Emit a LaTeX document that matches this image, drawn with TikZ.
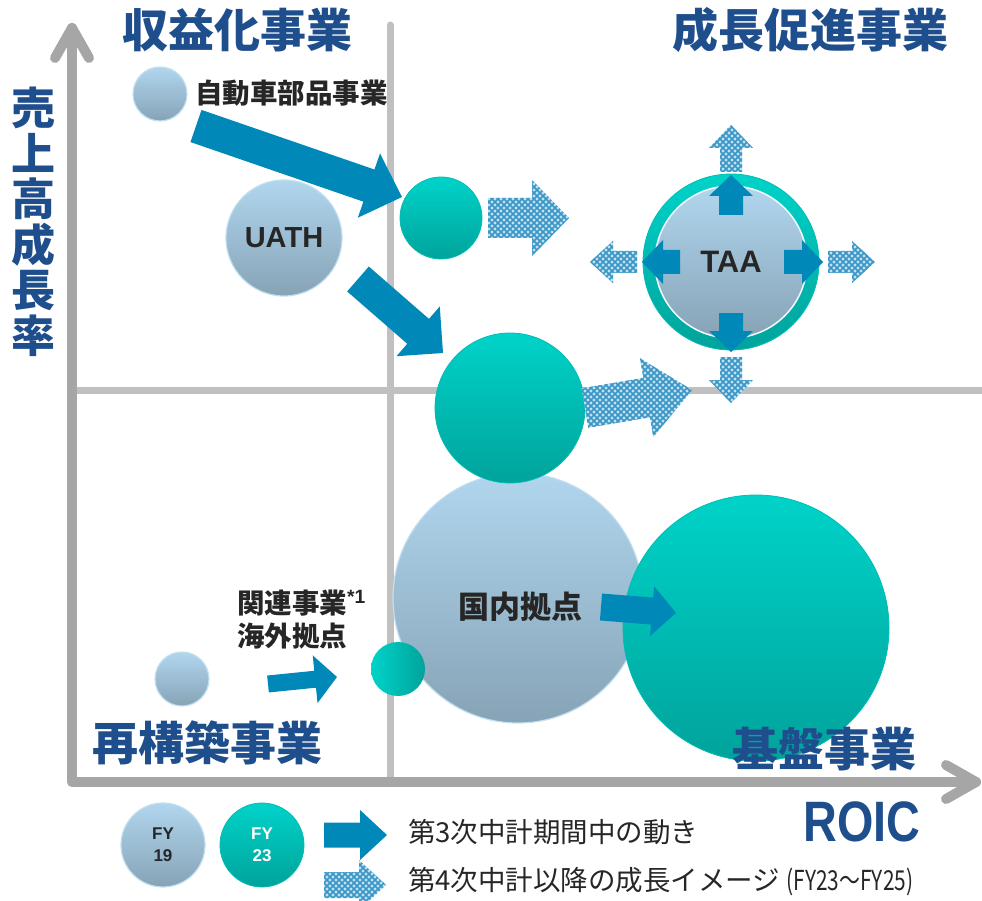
\documentclass[tikz,border=0pt]{standalone}
\usepackage{fontspec}
\setmainfont{Noto Sans CJK JP}
\newfontfamily\lat{Liberation Sans}
\usetikzlibrary{calc,patterns}
\definecolor{titleblue}{HTML}{1F4E8C}
\definecolor{axisgray}{HTML}{A6A6A6}
\definecolor{divgray}{HTML}{C0C0C0}
\definecolor{arrowblue}{HTML}{0088B8}
\definecolor{hatchblue}{HTML}{3A96C6}
\definecolor{hatchbg}{HTML}{C4E2F1}
\definecolor{tltop}{HTML}{00D3C9}
\definecolor{tlbot}{HTML}{00A39B}
\definecolor{tledge}{HTML}{00BDB5}
\definecolor{lbtop}{HTML}{B0D6EE}
\definecolor{lbbot}{HTML}{87A3B6}
\definecolor{lbedge}{HTML}{C2DFF0}
\definecolor{darktext}{HTML}{262626}
\pgfdeclarepatternformonly{lattice}{\pgfqpoint{-1pt}{-1pt}}{\pgfqpoint{7pt}{7pt}}{\pgfqpoint{6pt}{6pt}}{%
  \pgfsetlinewidth{1.6pt}%
  \pgfpathmoveto{\pgfqpoint{0pt}{0pt}}\pgfpathlineto{\pgfqpoint{6pt}{6pt}}%
  \pgfpathmoveto{\pgfqpoint{0pt}{6pt}}\pgfpathlineto{\pgfqpoint{6pt}{0pt}}%
  \pgfusepath{stroke}}
% #1 style, #2 from, #3 to, #4 shaft half width, #5 head half width, #6 head length
\newcommand\fatarr[6]{%
  \path[#1] ($(#2)!#4!90:(#3)$) -- ($($(#3)!#6!(#2)$)!#4!90:(#3)$)
    -- ($($(#3)!#6!(#2)$)!#5!90:(#3)$) -- (#3)
    -- ($($(#3)!#6!(#2)$)!#5!-90:(#3)$) -- ($($(#3)!#6!(#2)$)!#4!-90:(#3)$)
    -- ($(#2)!#4!-90:(#3)$) -- cycle;}
\tikzset{
  solidarr/.style={fill=arrowblue},
  hatcharr/.style={fill=hatchbg, postaction={pattern=lattice, pattern color=hatchblue}},
  fyold/.style={circle, inner sep=0pt, top color=lbtop, bottom color=lbbot, draw=lbedge, line width=1.2pt},
  fynew/.style={circle, inner sep=0pt, top color=tltop, bottom color=tlbot, draw=tledge, line width=0.8pt},
  quadtitle/.style={text=titleblue, inner sep=0pt, font=\fontsize{46}{50}\selectfont\bfseries},
  lab/.style={text=darktext, inner sep=0pt, font=\fontsize{27.5}{33}\selectfont\bfseries},
  legtext/.style={text=darktext, inner sep=0pt, anchor=west, font=\fontsize{27.5}{30}\selectfont},
  axisline/.style={draw=axisgray, line width=10pt, line cap=round, line join=round},
  divline/.style={draw=divgray, line width=7pt, line cap=round},
}
\begin{document}
\begin{tikzpicture}[x=1pt,y=-1pt]
\useasboundingbox (0,0) rectangle (982,901);
% dividers
\draw[divline] (390,25) -- (390,782);
\draw[divline] (72,390) -- (985,390);
% axes
\draw[axisline] (72,28) -- (72,782) -- (976,782);
\draw[axisline] (55,58) -- (72,28) -- (89,58);
\draw[axisline] (946,765) -- (976,782) -- (946,799);
% circles
\node[fyold, minimum size=54pt] (c1) at (160,94) {};
\node[fyold, minimum size=116pt, font=\lat\bfseries\fontsize{29}{32}\selectfont, text=darktext] (uath) at (284,238) {UATH};
\node[fynew, minimum size=82pt] (c2) at (441,218) {};
\node[fyold, minimum size=250pt] (kokunai) at (518,598) {};
\node[fynew, minimum size=150pt] (c3) at (510,408) {};
\node[fynew, minimum size=266pt] (kiban) at (756,628) {};
\node[fyold, minimum size=54pt] (c5) at (182,679) {};
\node[circle, inner sep=0pt, minimum size=54pt, left color=tltop, right color=tlbot] (c6) at (398,669) {};
\node[fynew, minimum size=176pt] (taaout) at (731,262) {};
\node[circle, inner sep=0pt, minimum size=152pt, top color=lbtop, bottom color=lbbot, draw=white!85!lbtop, line width=1.5pt] (taa) at (731,262) {};
% arrow coordinates
\coordinate (s1a) at (196,126); \coordinate (s1b) at (402,197);
\coordinate (s2a) at (358,279); \coordinate (s2b) at (443,353);
\coordinate (s3a) at (601,607); \coordinate (s3b) at (676,613);
\coordinate (s4a) at (268,684); \coordinate (s4b) at (337,677);
\coordinate (h1a) at (488,218); \coordinate (h1b) at (569,218);
\coordinate (h2a) at (585,408); \coordinate (h2b) at (692,390);
\coordinate (tu1) at ($(taa)+(0,-47)$); \coordinate (tu2) at ($(taa)+(0,-87)$);
\coordinate (td1) at ($(taa)+(0,51)$); \coordinate (td2) at ($(taa)+(0,90)$);
\coordinate (tl1) at ($(taa)+(-51,0)$); \coordinate (tl2) at ($(taa)+(-89,0)$);
\coordinate (tr1) at ($(taa)+(53,0)$); \coordinate (tr2) at ($(taa)+(92,0)$);
\coordinate (hu1) at ($(taa)+(0,-90)$); \coordinate (hu2) at ($(taa)+(0,-137)$);
\coordinate (hd1) at ($(taa)+(0,95)$); \coordinate (hd2) at ($(taa)+(0,141)$);
\coordinate (hl1) at ($(taa)+(-94,0)$); \coordinate (hl2) at ($(taa)+(-141,0)$);
\coordinate (hr1) at ($(taa)+(97,0)$); \coordinate (hr2) at ($(taa)+(144,0)$);
\coordinate (ls1) at (324,835); \coordinate (ls2) at (387,835);
\coordinate (lh1) at (324,885); \coordinate (lh2) at (386,885);
% arrows
\fatarr{solidarr}{s1a}{s1b}{17pt}{34pt}{35pt}
\fatarr{solidarr}{s2a}{s2b}{16.5pt}{33pt}{33pt}
\fatarr{hatcharr}{h1a}{h1b}{20pt}{38pt}{37pt}
\fatarr{hatcharr}{h2a}{h2b}{20pt}{40pt}{46pt}
\fatarr{solidarr}{tu1}{tu2}{12pt}{22pt}{21pt}
\fatarr{solidarr}{td1}{td2}{12pt}{22pt}{21pt}
\fatarr{solidarr}{tl1}{tl2}{12pt}{22pt}{21pt}
\fatarr{solidarr}{tr1}{tr2}{12pt}{22pt}{21pt}
\fatarr{hatcharr}{hu1}{hu2}{11pt}{22pt}{23pt}
\fatarr{hatcharr}{hd1}{hd2}{11pt}{22pt}{23pt}
\fatarr{hatcharr}{hl1}{hl2}{11pt}{21pt}{23pt}
\fatarr{hatcharr}{hr1}{hr2}{11pt}{21pt}{23pt}
\fatarr{solidarr}{s3a}{s3b}{13.5pt}{25pt}{24pt}
\fatarr{solidarr}{s4a}{s4b}{8.5pt}{24pt}{22pt}
\fatarr{solidarr}{ls1}{ls2}{12.5pt}{25pt}{27pt}
\fatarr{hatcharr}{lh1}{lh2}{13pt}{25pt}{27pt}
% texts
\node[text=darktext, font=\lat\bfseries\fontsize{31}{34}\selectfont] (taatext) at (taa) {TAA};
\node[quadtitle] (t1) at (237,30) {収益化事業};
\node[quadtitle] (t2) at (810,30) {成長促進事業};
\node[quadtitle] (t3) at (207,743) {再構築事業};
\node[quadtitle] (t4) at (824,749) {基盤事業};
\node[text=titleblue, inner sep=0pt, align=center, font=\fontsize{44}{45.5}\selectfont\bfseries] (yl) at (33,222) {売\\上\\高\\成\\長\\率};
\node[text=titleblue, inner sep=0pt, font=\lat\bfseries\fontsize{57}{60}\selectfont] (xl) at (862,822) {\scalebox{0.82}[1]{ROIC}};
\node[lab, anchor=west] (l1) at (195,93) {自動車部品事業};
\node[lab, anchor=base west] (l2) at (237,613) {関連事業\textsuperscript{\lat *1}};
\node[lab, anchor=base west] (l3) at (237,646) {海外拠点};
\node[lab, font=\fontsize{31}{34}\selectfont\bfseries] (l4) at (520,607) {国内拠点};
% legend
\node[fyold, minimum size=84pt, align=center, text=darktext, font=\lat\bfseries\fontsize{17}{22}\selectfont] (lg19) at (163,845) {FY\\19};
\node[fynew, minimum size=84pt, align=center, text=white, font=\lat\bfseries\fontsize{17}{22}\selectfont] (lg23) at (262,845) {FY\\23};
\node[legtext] (lt1) at (408,832) {第3次中計期間中の動き};
\node[legtext] (lt2) at (408,882) {第4次中計以降の成長イメージ \scalebox{0.76}[1]{(FY23～FY25)}};
\end{tikzpicture}
\end{document}
